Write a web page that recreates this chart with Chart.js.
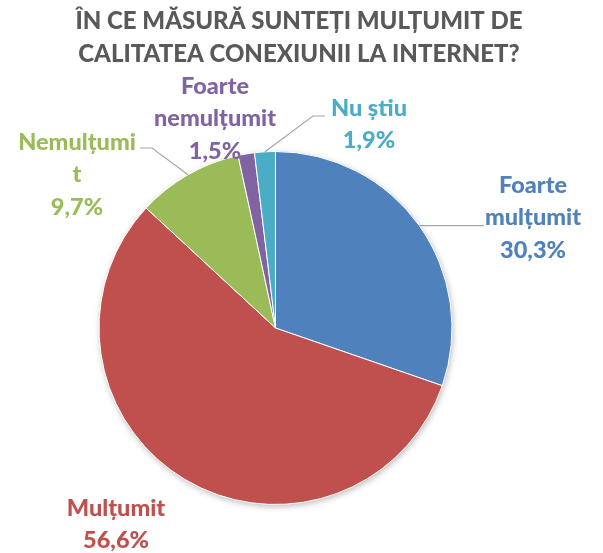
<!DOCTYPE html>
<html>
<head>
<meta charset="utf-8">
<script src="https://cdn.jsdelivr.net/npm/chart.js@4"></script>
<style>
  html, body { margin: 0; padding: 0; background: #fff; }
  #wrap { width: 603px; height: 553px; position: relative; }
</style>
</head>
<body>
<div id="wrap"><canvas id="pieChart"></canvas></div>
<script>
// Date sondaj
const categories = ['Foarte mulțumit', 'Mulțumit', 'Nemulțumit', 'Foarte nemulțumit', 'Nu știu'];
const percents = [30.3, 56.6, 9.7, 1.5, 1.9];
const colors = ['#4F81BD', '#C0504D', '#9BBB59', '#8064A2', '#4BACC6'];
const titleLines = ['ÎN CE MĂSURĂ SUNTEȚI MULȚUMIT DE', 'CALITATEA CONEXIUNII LA INTERNET?'];

// cum se rup etichetele pe randuri
const labelLines = [['Foarte', 'mulțumit'], ['Mulțumit'], ['Nemulțumi', 't'], ['Foarte', 'nemulțumit'], ['Nu știu']];

// pozitia etichetelor (centru, primul rand) si frangerea liniilor de legatura
const labelPos = [
    { x: 533, y: 185, leader: [[484, null]] },
    { x: 116, y: 508, leader: null },
    { x: 77, y: 142, leader: [[152, 148], [140, 148]] },
    { x: 215, y: 86, leader: null },
    { x: 369, y: 108, leader: [[313, 116], [325, 116]] }
];

const FONT = 'Lato, "Open Sans", sans-serif';

function fmt(v) {
    return v.toFixed(1).replace('.', ',') + '%';
}

// umbra discreta sub tot discul
const shadowPlugin = {
    id: 'pieShadow',
    beforeDatasetsDraw(chart) {
        const arc = chart.getDatasetMeta(0).data[0];
        if (!arc) return;
        const ctx = chart.ctx;
        ctx.save();
        ctx.shadowColor = 'rgba(0,0,0,0.28)';
        ctx.shadowBlur = 6;
        ctx.shadowOffsetX = 1;
        ctx.shadowOffsetY = 2;
        ctx.fillStyle = '#fff';
        ctx.beginPath();
        ctx.arc(arc.x, arc.y, arc.outerRadius, 0, Math.PI * 2);
        ctx.fill();
        ctx.restore();
    }
};

// titlul, etichetele si liniile de legatura
const labelsPlugin = {
    id: 'sliceLabels',
    afterDraw(chart) {
        const ctx = chart.ctx;
        const meta = chart.getDatasetMeta(0);
        ctx.save();
        ctx.textAlign = 'center';
        ctx.textBaseline = 'middle';

        ctx.fillStyle = '#595959';
        ctx.font = '900 24px ' + FONT;
        ctx.fillText(titleLines[0], 299, 21);
        ctx.fillText(titleLines[1], 299, 54);

        meta.data.forEach((arc, i) => {
            const pos = labelPos[i];
            if (pos.leader) {
                const mid = (arc.startAngle + arc.endAngle) / 2;
                const sx = arc.x + Math.cos(mid) * arc.outerRadius;
                const sy = arc.y + Math.sin(mid) * arc.outerRadius;
                ctx.strokeStyle = '#A6A6A6';
                ctx.lineWidth = 1.2;
                ctx.beginPath();
                ctx.moveTo(sx, sy);
                pos.leader.forEach(p => ctx.lineTo(p[0], p[1] === null ? sy : p[1]));
                ctx.stroke();
            }
            const lines = labelLines[i].concat([fmt(percents[i])]);
            ctx.fillStyle = colors[i];
            ctx.font = '900 23.5px ' + FONT;
            lines.forEach((t, k) => ctx.fillText(t, pos.x, pos.y + k * 32.5));
        });
        ctx.restore();
    }
};

const data = {
    labels: categories,
    datasets: [{
        data: percents,
        backgroundColor: colors,
        borderColor: '#ffffff',
        borderWidth: 1
    }]
};

const config = {
    type: 'pie',
    data: data,
    options: {
        responsive: true,
        maintainAspectRatio: false,
        animation: false,
        layout: {
            padding: { left: 98, right: 150, top: 151, bottom: 48 }
        },
        plugins: {
            legend: { display: false },
            title: { display: false },
            tooltip: { enabled: false }
        }
    },
    plugins: [shadowPlugin, labelsPlugin]
};

const myChart = document.querySelector('#pieChart');
if (myChart) {
    new Chart(myChart, config);
} else {
    console.error('Canvas pieChart not found');
}
</script>
</body>
</html>
